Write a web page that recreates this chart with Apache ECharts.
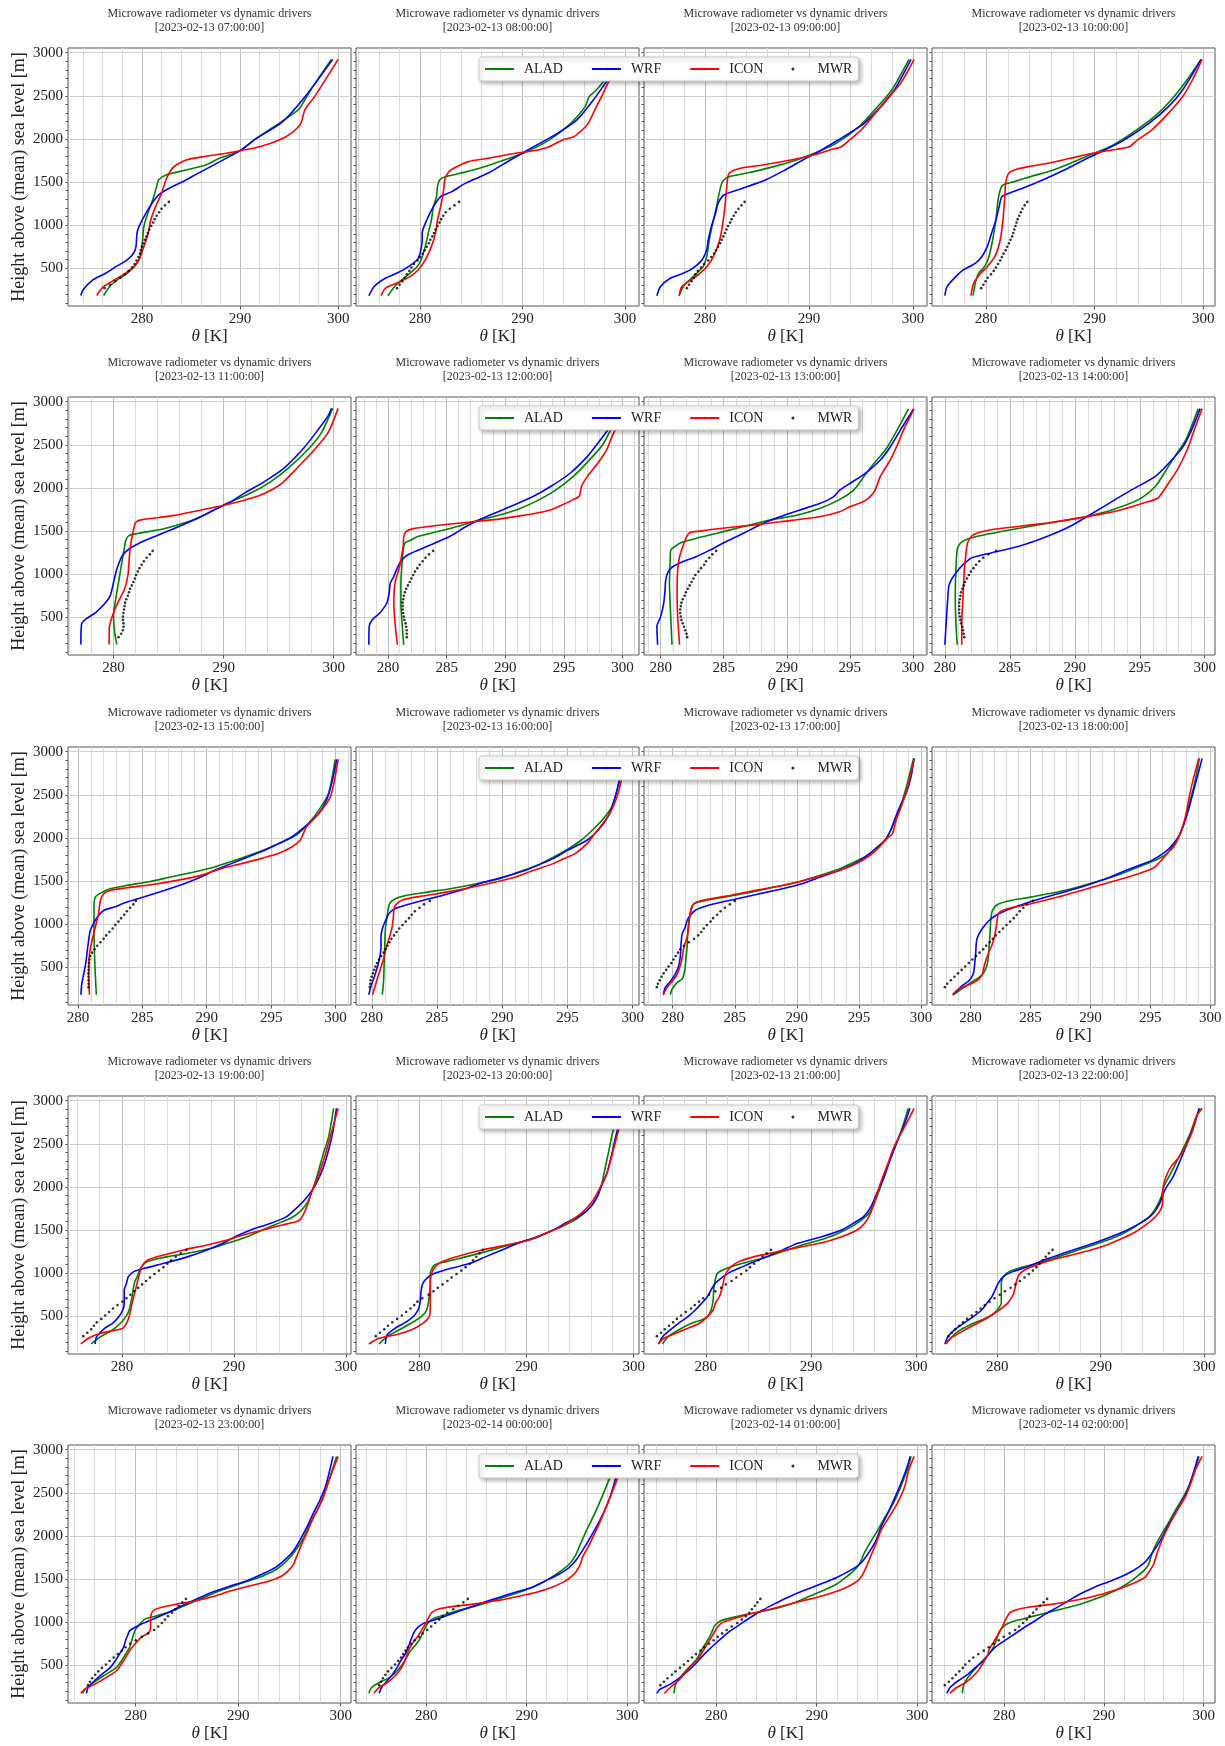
<!DOCTYPE html>
<html><head><meta charset="utf-8">
<script src="https://cdn.jsdelivr.net/npm/echarts@6/dist/echarts.min.js"></script>
<style>html,body{margin:0;padding:0;background:#fff}#c{width:1225px;height:1746px}</style>
</head><body><div id="c"></div>
<script>
// ---------------- DATA ----------------
const TIMES = ['2023-02-13 07:00:00','2023-02-13 08:00:00','2023-02-13 09:00:00','2023-02-13 10:00:00',
  '2023-02-13 11:00:00','2023-02-13 12:00:00','2023-02-13 13:00:00','2023-02-13 14:00:00',
  '2023-02-13 15:00:00','2023-02-13 16:00:00','2023-02-13 17:00:00','2023-02-13 18:00:00',
  '2023-02-13 19:00:00','2023-02-13 20:00:00','2023-02-13 21:00:00','2023-02-13 22:00:00',
  '2023-02-13 23:00:00','2023-02-14 00:00:00','2023-02-14 01:00:00','2023-02-14 02:00:00'];
const SERIES_NAMES = ['ALAD','WRF','ICON','MWR'];
const Y_TICKS = [500,1000,1500,2000,2500,3000];
const MWR_H = [270,310,350,390,430,470,510,550,590,630,670,710,750,790,830,870,910,950,990,1030,1070,1110,1150,1190,1230,1270];

// [theta K, height m]
const ALAD_07 = [[276.1,185],[276.7,287],[277.5,365],[278.5,442],[279.2,519],[279.7,597],[279.9,674],[280.07,828],[280.2,983],[280.6,1137],[281.1,1292],[281.5,1447],[281.7,1524],[282.45,1582],[284.5,1640],[286.5,1698],[287.9,1775],[290.0,1864],[291.6,2000],[295.9,2335],[296.6,2451],[297.2,2567],[299.3,2922]];
const WRF_07 = [[273.78,185],[274.0,249],[275.0,365],[276.3,442],[277.35,519],[278.5,597],[279.15,674],[279.4,751],[279.5,906],[279.7,983],[280.4,1137],[281.26,1292],[281.9,1369],[283.1,1447],[284.1,1500],[285.7,1600],[290.0,1864],[291.6,2000],[294.35,2200],[296.7,2500],[299.45,2922]];
const ICON_07 = [[275.4,185],[276.0,280],[277.2,365],[278.3,442],[279.2,519],[279.7,597],[280.2,751],[280.65,906],[280.9,1060],[281.4,1215],[282.0,1369],[282.45,1524],[282.96,1640],[283.5,1698],[284.5,1756],[286.2,1794],[288.6,1833],[290.0,1864],[292.0,1910],[294.0,1988],[295.2,2065],[296.2,2181],[296.6,2335],[297.6,2490],[300.0,2922]];
const MWR_07 = [276.2,276.75,277.3,277.8,278.25,278.65,279.0,279.25,279.45,279.65,279.8,279.9,280.0,280.15,280.3,280.45,280.6,280.75,280.95,281.15,281.3,281.5,281.75,282.0,282.35,282.75];

const ALAD_08 = [[276.85,182],[277.5,287],[278.2,365],[279.0,442],[279.7,519],[280.1,597],[280.5,751],[280.8,906],[281.1,1060],[281.3,1215],[281.6,1331],[281.7,1447],[281.9,1524],[282.5,1563],[283.9,1601],[285.8,1659],[288.2,1756],[290.4,1852],[292.6,1988],[294.7,2181],[296.1,2374],[296.5,2490],[297.2,2567],[298.0,2683],[299.5,2922]];
const WRF_08 = [[275.0,182],[275.5,287],[276.6,384],[277.7,442],[278.6,500],[279.7,597],[280.0,674],[280.2,828],[280.2,906],[280.65,1060],[281.3,1215],[282.0,1331],[283.1,1389],[284.4,1485],[286.6,1601],[288.8,1756],[290.5,1872],[293.4,2065],[295.3,2220],[296.9,2451],[298.3,2683],[299.8,2922]];
const ICON_08 = [[276.2,182],[276.6,268],[277.7,326],[279.0,403],[279.8,481],[280.5,597],[281.1,751],[281.5,906],[281.7,1060],[282.0,1215],[282.3,1408],[282.4,1524],[282.8,1620],[283.6,1679],[284.7,1737],[286.6,1775],[289.3,1833],[291.5,1872],[292.6,1910],[293.9,1988],[295.0,2026],[295.8,2103],[296.4,2181],[297.2,2374],[297.7,2490],[298.5,2683],[300.1,2922]];
const MWR_08 = [277.75,278.0,278.25,278.5,278.7,278.95,279.15,279.4,279.75,280.0,280.25,280.45,280.65,280.85,281.0,281.2,281.35,281.5,281.7,281.9,282.05,282.25,282.5,282.9,283.35,283.8];

const ALAD_09 = [[277.5,182],[277.9,287],[278.5,365],[279.2,442],[279.8,519],[280.16,635],[280.4,828],[280.8,1060],[281.1,1215],[281.35,1369],[281.6,1485],[281.8,1524],[282.3,1563],[283.9,1601],[286.6,1679],[288.8,1756],[290.5,1833],[292.6,1949],[294.8,2142],[296.6,2374],[297.95,2567],[299.6,2922]];
const WRF_09 = [[275.36,182],[275.7,287],[276.65,384],[277.9,442],[278.8,500],[279.7,597],[280.15,712],[280.3,828],[280.6,983],[281.0,1137],[281.25,1253],[281.8,1350],[283.1,1408],[285.8,1524],[287.7,1640],[289.4,1756],[290.9,1852],[292.8,1988],[295.3,2181],[296.9,2374],[298.2,2567],[299.8,2922]];
const ICON_09 = [[277.5,182],[277.75,287],[278.65,365],[279.5,442],[280.16,519],[280.8,635],[281.4,828],[281.7,1022],[281.9,1215],[282.05,1408],[282.15,1524],[282.3,1601],[283.4,1659],[285.55,1698],[288.25,1756],[290.4,1814],[292.0,1872],[293.1,1910],[293.9,1988],[295.0,2103],[296.1,2258],[297.4,2451],[298.8,2644],[300.1,2922]];
const MWR_09 = [278.25,278.45,278.7,278.9,279.05,279.3,279.6,279.9,280.3,280.6,280.85,281.05,281.25,281.45,281.6,281.75,281.9,282.05,282.2,282.4,282.55,282.75,282.95,283.2,283.5,283.8];

const ALAD_10 = [[278.8,182],[279.0,326],[279.3,442],[279.85,519],[280.26,635],[280.6,828],[280.9,1060],[281.1,1292],[281.3,1408],[281.55,1466],[282.6,1505],[284.1,1563],[286.2,1640],[287.75,1717],[289.55,1814],[291.4,1910],[293.4,2065],[295.5,2258],[297.05,2451],[298.5,2683],[299.8,2922]];
const WRF_10 = [[276.2,182],[276.4,287],[277.2,403],[277.9,481],[279.0,558],[279.6,635],[280.1,751],[280.5,906],[280.9,1060],[281.2,1215],[281.45,1331],[282.1,1369],[283.35,1427],[285.2,1524],[287.2,1640],[289.0,1756],[290.6,1852],[292.7,1988],[295.0,2181],[296.8,2374],[298.1,2567],[299.8,2922]];
const ICON_10 = [[278.6,182],[278.85,326],[279.5,442],[280.1,519],[280.8,635],[281.3,828],[281.55,1060],[281.7,1292],[281.8,1485],[282.07,1601],[282.6,1640],[283.9,1679],[285.7,1717],[287.75,1775],[289.8,1833],[291.6,1872],[293.2,1910],[293.95,1988],[295.25,2103],[296.5,2258],[298.1,2490],[299.0,2683],[299.9,2922]];
const MWR_10 = [279.55,279.75,279.95,280.15,280.45,280.7,280.9,281.1,281.3,281.45,281.6,281.8,281.95,282.1,282.25,282.4,282.5,282.6,282.7,282.8,282.9,283.05,283.2,283.35,283.55,283.8];

const ALAD_11 = [[280.3,185],[280.1,326],[280.0,519],[280.15,674],[280.45,906],[280.75,1137],[280.97,1292],[281.1,1389],[281.4,1447],[282.3,1474],[284.5,1524],[286.6,1601],[288.1,1679],[289.3,1756],[290.55,1833],[292.6,1949],[294.2,2065],[295.8,2220],[297.7,2451],[298.9,2644],[299.9,2922]];
const WRF_11 = [[277.03,185],[277.1,423],[277.5,481],[278.4,558],[279.3,674],[279.7,751],[280.0,906],[280.3,1060],[280.8,1215],[281.4,1292],[282.2,1350],[283.55,1427],[285.4,1524],[287.5,1640],[289.3,1756],[290.55,1833],[292.0,1949],[293.6,2065],[295.4,2220],[297.2,2451],[298.4,2644],[299.5,2838],[299.8,2922]];
const ICON_11 = [[279.6,185],[279.6,365],[279.9,519],[280.4,674],[281.0,828],[281.3,983],[281.4,1137],[281.5,1292],[281.7,1447],[281.9,1563],[282.0,1601],[282.6,1632],[285.4,1679],[288.4,1756],[290.55,1814],[291.7,1852],[293.2,1910],[294.5,1988],[295.4,2065],[296.6,2220],[298.3,2451],[299.5,2644],[300.4,2922]];
const MWR_11 = [280.45,280.7,280.85,280.9,280.9,280.85,280.85,280.9,280.95,281.0,281.05,281.15,281.3,281.4,281.5,281.65,281.8,281.95,282.05,282.2,282.35,282.55,282.75,283.0,283.3,283.55];

const ALAD_12 = [[281.34,182],[281.2,434],[281.1,666],[281.1,898],[281.2,1130],[281.3,1284],[281.45,1362],[281.9,1393],[282.6,1439],[284.3,1497],[286.0,1555],[287.4,1613],[289.1,1671],[291.0,1748],[292.9,1864],[294.35,1980],[295.8,2134],[297.2,2328],[298.4,2521],[299.8,2922]];
const WRF_12 = [[278.37,182],[278.4,396],[278.66,473],[279.3,550],[279.9,666],[280.1,782],[280.2,898],[280.5,975],[280.85,1091],[281.2,1168],[281.7,1226],[283.35,1323],[285.3,1439],[286.7,1555],[288.1,1651],[290.5,1787],[292.4,1903],[293.9,2019],[295.55,2173],[297.0,2366],[297.9,2521],[298.75,2675],[300.0,2922]];
const ICON_12 = [[280.8,182],[280.6,434],[280.5,666],[280.6,898],[281.0,1091],[281.15,1207],[281.3,1323],[281.35,1439],[281.55,1497],[282.15,1528],[283.6,1555],[286.2,1594],[289.1,1632],[291.0,1671],[292.7,1709],[293.9,1748],[294.6,1787],[295.8,1864],[296.3,1903],[296.5,2019],[297.0,2134],[297.9,2289],[298.65,2443],[299.1,2598],[300.3,2922]];
const MWR_12 = [281.6,281.6,281.6,281.55,281.5,281.4,281.35,281.3,281.25,281.25,281.25,281.3,281.35,281.45,281.55,281.7,281.85,282.0,282.15,282.3,282.5,282.7,282.95,283.2,283.5,283.85];

const ALAD_13 = [[280.9,182],[280.8,508],[280.7,894],[280.75,1125],[280.8,1279],[281.1,1318],[281.6,1364],[282.8,1414],[284.4,1472],[286.5,1549],[288.65,1627],[290.8,1684],[292.6,1762],[294.1,1858],[295.3,1974],[296.1,2128],[296.9,2282],[297.8,2437],[298.6,2630],[299.65,2915]];
const WRF_13 = [[279.76,182],[279.7,392],[280.0,508],[280.24,662],[280.35,816],[280.4,932],[280.6,1029],[280.95,1086],[281.75,1144],[282.8,1202],[283.9,1279],[284.9,1356],[286.0,1434],[287.05,1511],[288.1,1588],[289.45,1665],[291.0,1742],[292.6,1819],[293.7,1897],[294.2,1974],[295.0,2051],[296.2,2167],[297.4,2321],[298.2,2475],[299.0,2668],[300.05,2915]];
const ICON_13 = [[281.5,182],[281.35,508],[281.3,816],[281.35,1048],[281.5,1202],[281.75,1318],[282.0,1414],[282.3,1480],[283.1,1499],[284.7,1530],[287.3,1569],[289.45,1607],[292.6,1665],[294.2,1723],[295.0,1781],[296.05,1839],[296.6,1897],[297.0,1974],[297.4,2128],[297.7,2205],[298.2,2321],[298.7,2475],[299.25,2668],[300.1,2915]];
const MWR_13 = [282.1,282.05,281.95,281.85,281.75,281.65,281.6,281.55,281.55,281.6,281.65,281.75,281.9,282.0,282.15,282.3,282.45,282.6,282.75,283.0,283.2,283.45,283.6,283.85,284.1,284.4];

const ALAD_14 = [[280.95,182],[280.85,434],[280.8,743],[280.85,1053],[280.95,1284],[281.2,1362],[281.6,1400],[282.5,1439],[284.45,1497],[286.6,1555],[288.8,1613],[290.95,1671],[292.9,1748],[294.9,1864],[296.2,2019],[297.05,2212],[297.7,2366],[298.55,2560],[299.5,2919]];
const WRF_14 = [[280.0,182],[280.1,434],[280.2,666],[280.3,859],[280.5,936],[280.95,1033],[281.4,1110],[282.05,1188],[283.55,1246],[285.7,1323],[287.9,1439],[289.65,1555],[291.4,1709],[293.1,1864],[294.4,1980],[296.2,2134],[297.25,2289],[298.35,2482],[299.0,2675],[299.65,2919]];
const ICON_14 = [[281.3,182],[281.3,434],[281.4,743],[281.5,1053],[281.6,1207],[281.75,1362],[282.05,1439],[282.5,1478],[283.55,1516],[285.75,1555],[287.9,1594],[289.65,1632],[291.8,1690],[293.6,1748],[295.3,1825],[296.4,1883],[297.05,2019],[297.9,2212],[298.65,2443],[299.2,2675],[299.8,2919]];
const MWR_14 = [281.5,281.45,281.4,281.35,281.25,281.2,281.15,281.1,281.1,281.1,281.1,281.15,281.2,281.25,281.35,281.45,281.55,281.7,281.85,282.0,282.2,282.4,282.65,282.95,283.35,283.95];

const ALAD_15 = [[281.43,182],[281.35,422],[281.28,694],[281.25,965],[281.25,1198],[281.35,1314],[281.75,1360],[282.5,1411],[283.8,1450],[285.4,1488],[287.2,1547],[289.0,1605],[290.6,1663],[292.2,1740],[293.7,1818],[295.0,1895],[296.2,1973],[297.1,2050],[297.9,2167],[298.7,2322],[299.45,2516],[299.97,2911]];
const WRF_15 = [[280.23,182],[280.3,306],[280.45,422],[280.6,539],[280.7,655],[280.83,810],[280.96,926],[281.2,1004],[281.5,1081],[282.0,1159],[282.8,1198],[283.8,1256],[285.1,1314],[286.7,1391],[288.25,1469],[289.55,1547],[290.6,1624],[291.9,1702],[293.2,1779],[294.5,1857],[295.55,1934],[296.6,2012],[297.6,2128],[298.7,2283],[299.3,2438],[299.7,2632],[300.1,2911]];
const ICON_15 = [[280.9,182],[280.83,422],[280.9,655],[281.1,810],[281.35,965],[281.6,1120],[281.75,1275],[282.0,1353],[282.5,1391],[283.8,1422],[285.65,1457],[287.7,1508],[289.55,1566],[291.1,1643],[292.7,1702],[294.2,1760],[295.55,1818],[296.6,1895],[297.25,1973],[297.5,2050],[297.75,2128],[298.7,2283],[299.6,2477],[300.2,2911]];
const MWR_15 = [280.83,280.83,280.83,280.83,280.83,280.84,280.85,280.87,280.9,280.95,281.1,281.3,281.5,281.75,282.0,282.2,282.45,282.7,282.9,283.15,283.35,283.6,283.8,284.05,284.3,284.5];

const ALAD_16 = [[280.8,182],[280.9,345],[280.95,578],[281.0,810],[281.05,965],[281.2,1120],[281.35,1236],[281.8,1294],[282.6,1333],[284.3,1372],[286.0,1411],[288.05,1469],[289.8,1527],[291.25,1605],[292.7,1682],[293.7,1760],[294.9,1857],[296.05,1973],[296.9,2089],[297.65,2205],[298.4,2360],[298.8,2554],[299.3,2911]];
const WRF_16 = [[279.77,182],[279.9,267],[280.26,422],[280.55,578],[280.7,733],[280.7,849],[280.8,946],[281.05,1043],[281.3,1120],[281.75,1178],[282.5,1217],[283.9,1275],[285.4,1333],[287.2,1411],[288.6,1488],[290.1,1546],[291.8,1624],[293.0,1702],[293.9,1760],[295.0,1857],[296.5,1973],[297.35,2089],[298.1,2244],[298.5,2399],[298.8,2554],[299.4,2911]];
const ICON_16 = [[280.06,182],[280.26,287],[280.45,384],[280.7,500],[280.93,616],[281.1,733],[281.35,849],[281.55,965],[281.65,1081],[281.7,1178],[281.9,1236],[282.4,1283],[283.7,1322],[285.7,1372],[287.75,1430],[289.5,1488],[291.0,1546],[292.4,1624],[293.9,1702],[295.0,1779],[295.6,1818],[296.5,1934],[297.1,2050],[297.9,2205],[298.5,2360],[298.95,2554],[299.5,2911]];
const MWR_16 = [279.85,279.88,279.9,279.98,280.08,280.18,280.28,280.4,280.55,280.72,280.9,281.05,281.2,281.35,281.5,281.7,281.9,282.1,282.35,282.6,282.85,283.05,283.3,283.65,284.0,284.45];

const ALAD_17 = [[279.8,182],[279.95,248],[280.36,326],[280.76,364],[280.9,422],[281.0,500],[281.07,616],[281.16,733],[281.2,888],[281.3,1043],[281.47,1159],[281.7,1236],[282.3,1264],[283.36,1294],[284.9,1333],[286.4,1372],[288.2,1430],[290.1,1488],[291.9,1566],[293.45,1644],[294.65,1721],[295.7,1799],[296.5,1896],[297.1,1973],[297.56,2089],[298.0,2244],[298.5,2438],[298.9,2632],[299.4,2922]];
const WRF_17 = [[279.24,182],[279.4,267],[279.85,345],[280.2,422],[280.45,500],[280.6,616],[280.67,771],[280.76,888],[281.0,965],[281.16,1043],[281.4,1101],[281.8,1159],[282.44,1198],[283.36,1236],[285.2,1294],[287.0,1353],[288.85,1411],[290.4,1469],[291.9,1546],[293.45,1624],[294.65,1702],[295.3,1760],[296.2,1857],[297.1,1973],[297.56,2089],[297.86,2205],[298.3,2360],[298.8,2515],[299.2,2709],[299.45,2922]];
const ICON_17 = [[279.24,182],[279.55,267],[280.0,345],[280.36,422],[280.6,519],[280.76,616],[280.9,733],[281.16,849],[281.28,965],[281.37,1081],[281.47,1178],[281.7,1236],[282.14,1267],[283.05,1294],[284.6,1333],[286.4,1384],[288.2,1430],[290.1,1488],[291.6,1546],[293.45,1624],[294.8,1702],[295.9,1799],[296.65,1896],[297.25,1992],[297.7,2050],[298.0,2205],[298.5,2399],[299.0,2632],[299.45,2922]];
const MWR_17 = [278.72,278.8,278.95,279.1,279.27,279.48,279.66,279.88,280.06,280.24,280.42,280.6,280.9,281.3,281.72,282.05,282.3,282.5,282.75,283.05,283.25,283.58,283.85,284.2,284.6,285.0];

const ALAD_18 = [[278.54,182],[279.44,267],[280.28,345],[280.7,384],[281.12,442],[281.4,539],[281.54,733],[281.62,888],[281.68,1043],[281.82,1159],[282.24,1229],[283.36,1275],[285.0,1314],[287.28,1372],[288.96,1430],[290.92,1508],[292.6,1585],[294.0,1663],[295.4,1740],[296.4,1818],[296.8,1895],[297.37,2012],[297.87,2205],[298.26,2399],[298.7,2632],[299.1,2922]];
const WRF_18 = [[278.54,182],[278.88,229],[279.3,287],[279.86,345],[280.22,422],[280.34,539],[280.42,655],[280.5,810],[280.7,888],[281.06,965],[281.54,1043],[282.1,1101],[282.94,1159],[284.06,1217],[285.32,1275],[287.28,1353],[289.24,1430],[290.92,1508],[292.3,1585],[293.7,1663],[295.13,1740],[296.25,1837],[296.95,1934],[297.5,2050],[297.93,2205],[298.26,2360],[298.63,2554],[299.0,2748],[299.33,2922]];
const ICON_18 = [[278.49,182],[279.0,248],[280.0,306],[280.7,364],[280.98,422],[281.18,539],[281.46,655],[281.82,771],[282.04,888],[282.18,1004],[282.3,1120],[282.66,1159],[283.64,1198],[285.04,1236],[287.28,1314],[289.24,1391],[291.2,1469],[293.16,1547],[294.85,1624],[295.4,1663],[295.8,1721],[296.4,1818],[296.95,1895],[297.5,2050],[297.87,2205],[298.2,2438],[298.5,2632],[299.05,2922]];
const MWR_18 = [277.85,278.05,278.35,278.65,278.95,279.25,279.55,279.85,280.15,280.45,280.75,281.05,281.3,281.6,281.85,282.1,282.4,282.7,283.0,283.3,283.6,283.85,284.1,284.4,284.7,285.2];

const ALAD_19 = [[277.25,179],[278.1,264],[279.15,341],[279.86,419],[280.35,496],[280.64,573],[280.9,728],[281.1,882],[281.35,960],[281.6,1037],[282.0,1114],[282.7,1153],[284.1,1192],[285.9,1230],[288.0,1288],[289.4,1346],[290.8,1404],[292.2,1481],[293.6,1559],[295.05,1636],[295.9,1713],[296.6,1829],[297.0,1964],[297.4,2119],[297.9,2351],[298.45,2583],[298.9,2911]];
const WRF_19 = [[277.6,179],[277.74,264],[278.45,361],[279.15,419],[279.72,496],[280.07,573],[280.2,650],[280.2,805],[280.4,882],[280.57,960],[281.06,1018],[282.0,1056],[283.75,1114],[285.9,1192],[287.6,1269],[289.0,1346],[290.1,1423],[291.5,1501],[293.3,1578],[294.7,1655],[295.55,1752],[296.3,1849],[297.0,1964],[297.5,2080],[298.0,2235],[298.45,2428],[298.8,2621],[299.15,2911]];
const ICON_19 = [[276.33,179],[277.0,245],[278.1,303],[279.5,341],[280.07,361],[280.4,419],[280.64,496],[280.9,650],[281.2,805],[281.5,960],[281.77,1076],[282.3,1153],[283.75,1211],[285.5,1269],[287.6,1327],[289.4,1385],[290.8,1443],[292.6,1501],[294.3,1559],[295.6,1598],[296.0,1636],[296.5,1771],[297.0,1964],[297.5,2119],[298.1,2351],[298.6,2583],[299.3,2911]];
const MWR_19 = [276.55,276.9,277.25,277.5,277.75,278.15,278.5,278.85,279.2,279.6,280.05,280.4,280.75,281.1,281.45,281.8,282.15,282.5,282.9,283.3,283.7,284.05,284.4,284.8,285.25,285.75];

const ALAD_20 = [[276.2,179],[276.96,264],[278.07,341],[279.2,419],[280.15,496],[280.67,573],[280.9,728],[281.0,882],[281.0,998],[281.4,1095],[282.5,1134],[284.4,1192],[286.2,1250],[288.4,1327],[290.7,1404],[292.15,1481],[293.6,1559],[294.75,1636],[295.7,1733],[296.45,1849],[296.96,2003],[297.3,2196],[297.7,2428],[298.1,2660],[298.9,2911]];
const WRF_20 = [[276.8,179],[276.96,284],[277.7,361],[278.8,438],[279.55,515],[279.93,593],[280.07,689],[280.15,805],[280.3,882],[280.67,940],[281.4,998],[282.9,1056],[284.75,1114],[286.2,1192],[287.7,1269],[289.2,1346],[291.0,1423],[292.5,1501],[293.6,1578],[295.1,1675],[296.0,1771],[296.6,1887],[296.96,2003],[297.5,2158],[297.9,2351],[298.4,2621],[299.1,2911]];
const ICON_20 = [[275.26,179],[276.2,245],[277.7,284],[279.2,341],[280.3,419],[280.9,496],[281.0,612],[281.0,766],[281.0,921],[281.26,1037],[281.8,1114],[282.5,1153],[284.0,1211],[285.85,1269],[288.1,1327],[290.3,1385],[291.8,1462],[293.25,1540],[294.2,1617],[295.1,1694],[296.0,1810],[296.75,1964],[297.5,2158],[298.1,2428],[298.6,2660],[299.3,2911]];
const MWR_20 = [275.9,276.3,276.7,277.05,277.45,277.9,278.35,278.75,279.15,279.5,279.8,280.25,280.85,281.3,281.7,282.15,282.6,283.0,283.45,283.9,284.3,284.7,285.0,285.3,285.6,285.9];

const ALAD_21 = [[275.9,179],[276.4,264],[277.4,341],[278.65,419],[279.6,457],[280.15,496],[280.5,573],[280.7,689],[280.75,805],[280.9,921],[281.1,998],[282.0,1056],[283.5,1114],[285.4,1172],[287.3,1250],[289.15,1327],[291.4,1404],[293.25,1501],[294.6,1598],[295.5,1694],[296.0,1810],[296.5,1964],[297.0,2158],[297.75,2389],[298.5,2621],[299.25,2911]];
const WRF_21 = [[275.5,179],[275.9,264],[276.6,341],[277.4,419],[278.3,496],[279.0,573],[279.6,650],[280.15,728],[280.5,805],[280.9,882],[281.65,960],[282.4,1018],[283.5,1076],[284.65,1134],[285.8,1192],[287.3,1269],[288.75,1346],[291.0,1423],[292.9,1501],[294.0,1578],[295.0,1655],[295.7,1771],[296.25,1926],[296.85,2080],[297.4,2274],[298.1,2505],[298.9,2737],[299.4,2911]];
const ICON_21 = [[275.5,179],[276.0,245],[277.15,303],[278.3,361],[279.4,419],[280.15,496],[280.7,573],[280.9,650],[281.3,728],[281.5,805],[281.65,882],[281.8,960],[282.0,1018],[282.4,1076],[283.15,1134],[284.65,1192],[286.9,1250],[289.15,1307],[291.4,1365],[292.9,1423],[294.4,1501],[295.1,1578],[295.65,1694],[296.1,1849],[296.6,2042],[297.2,2235],[297.9,2467],[298.9,2698],[299.8,2911]];
const MWR_21 = [275.35,275.75,276.1,276.5,276.9,277.25,277.65,278.1,278.6,278.95,279.35,279.75,280.3,280.9,281.45,281.9,282.45,282.9,283.35,283.85,284.2,284.6,285.0,285.4,285.8,286.2];

const ALAD_22 = [[275.1,179],[275.5,245],[276.2,322],[277.35,399],[278.5,457],[279.5,515],[280.0,573],[280.4,650],[280.4,882],[280.6,960],[281.15,1018],[282.65,1076],[284.5,1134],[286.4,1211],[288.3,1288],[290.2,1365],[291.5,1423],[292.8,1501],[293.8,1578],[294.7,1655],[295.3,1752],[295.85,1887],[296.1,2003],[296.6,2119],[297.1,2235],[297.9,2428],[298.65,2621],[299.1,2776],[299.6,2911]];
const WRF_22 = [[274.95,179],[275.25,264],[275.85,341],[276.75,419],[277.7,496],[278.5,573],[279.0,650],[279.5,728],[279.8,805],[280.1,882],[280.6,960],[281.5,1018],[283.0,1076],[284.5,1153],[286.4,1230],[288.3,1307],[290.2,1385],[291.85,1462],[293.2,1540],[294.35,1617],[295.1,1694],[295.7,1810],[296.2,1964],[297.0,2119],[297.7,2312],[298.35,2505],[299.1,2737],[299.5,2911]];
const ICON_22 = [[274.95,179],[275.5,245],[276.6,322],[277.75,399],[278.7,457],[279.5,515],[280.2,573],[281.0,650],[281.35,708],[281.6,766],[281.75,843],[281.9,921],[282.1,979],[282.65,1037],[283.8,1095],[285.3,1153],[287.2,1211],[289.05,1269],[290.6,1327],[292.1,1404],[293.4,1481],[294.35,1559],[295.3,1655],[295.85,1752],[296.0,1849],[296.0,1964],[296.2,2080],[296.45,2158],[296.8,2235],[297.6,2351],[298.35,2505],[298.9,2660],[299.25,2814],[299.8,2911]];
const MWR_22 = [275.3,275.6,275.95,276.35,276.7,277.1,277.55,278.0,278.4,278.8,279.25,279.75,280.25,280.75,281.3,281.75,282.2,282.65,283.05,283.45,283.8,284.1,284.4,284.7,285.0,285.35];

const ALAD_23 = [[274.8,175],[275.2,240],[276.1,318],[277.1,395],[278.1,473],[278.6,550],[279.0,628],[279.4,705],[279.6,783],[279.8,860],[280.0,919],[280.4,977],[280.9,1035],[282.05,1074],[283.6,1132],[285.1,1209],[286.65,1287],[288.2,1364],[290.1,1442],[292.0,1519],[293.5,1597],[294.4,1674],[295.2,1771],[295.8,1868],[296.4,1984],[297.0,2139],[297.7,2295],[298.3,2450],[298.85,2643],[299.6,2922]];
const WRF_23 = [[275.2,175],[275.35,240],[275.95,318],[276.7,395],[277.5,473],[278.0,550],[278.4,628],[278.8,705],[279.0,783],[279.25,860],[279.4,899],[279.9,938],[280.5,977],[281.3,1016],[282.05,1054],[283.2,1112],[284.5,1190],[285.9,1267],[287.4,1345],[289.3,1422],[290.85,1481],[292.35,1558],[293.65,1636],[294.65,1733],[295.4,1829],[296.0,1946],[296.7,2101],[297.3,2256],[297.95,2411],[298.5,2566],[298.85,2721],[299.25,2922]];
const ICON_23 = [[274.65,175],[275.0,221],[276.0,279],[277.1,357],[278.1,434],[278.6,512],[279.0,589],[279.4,667],[279.9,744],[280.5,822],[281.05,860],[281.3,880],[281.45,938],[281.45,1054],[281.7,1132],[282.45,1171],[284.0,1209],[285.9,1248],[287.8,1306],[289.3,1364],[291.2,1422],[293.1,1481],[294.3,1539],[294.9,1597],[295.4,1674],[295.8,1791],[296.2,1907],[296.8,2062],[297.35,2217],[297.7,2295],[298.3,2450],[298.85,2643],[299.75,2922]];
const MWR_23 = [275.35,275.55,275.75,276.05,276.35,276.7,277.1,277.45,277.85,278.25,278.65,279.0,279.45,280.0,280.6,281.2,281.8,282.2,282.55,282.85,283.15,283.55,283.85,284.2,284.55,284.9];

const ALAD_00 = [[274.3,175],[274.55,240],[275.3,298],[276.35,357],[277.1,434],[277.65,512],[278.05,589],[278.45,667],[279.0,744],[279.45,822],[279.75,899],[280.1,977],[280.6,1035],[281.55,1074],[283.1,1132],[285.05,1190],[286.6,1248],[288.2,1306],[289.7,1364],[291.3,1442],[292.45,1519],[293.45,1597],[294.25,1674],[294.85,1771],[295.35,1907],[295.95,2062],[296.6,2217],[297.2,2372],[297.9,2566],[299.1,2922]];
const WRF_00 = [[275.33,175],[275.55,240],[276.1,318],[276.65,395],[277.1,473],[277.45,550],[277.9,628],[278.2,705],[278.45,783],[278.7,860],[279.0,919],[279.6,977],[280.55,1016],[281.55,1054],[282.9,1112],[284.3,1171],[285.7,1229],[287.25,1287],[288.8,1345],[290.5,1403],[291.9,1481],[293.25,1558],[294.25,1636],[295.0,1733],[295.65,1849],[296.35,1984],[297.1,2139],[297.75,2295],[298.3,2450],[298.7,2605],[299.5,2922]];
const ICON_00 = [[274.8,175],[275.3,240],[276.1,298],[276.9,376],[277.45,453],[277.8,531],[278.05,608],[278.3,686],[278.7,763],[279.2,841],[279.6,919],[280.0,996],[280.25,1054],[280.55,1112],[281.15,1151],[282.7,1182],[284.65,1209],[287.0,1248],[288.95,1295],[290.9,1345],[292.45,1403],[293.8,1473],[294.55,1539],[295.0,1597],[295.35,1674],[295.55,1752],[296.1,1868],[296.75,2023],[297.35,2178],[298.05,2372],[298.7,2566],[299.9,2922]];
const MWR_00 = [275.33,275.5,275.7,275.95,276.2,276.55,276.9,277.2,277.5,277.7,277.95,278.2,278.5,278.85,279.3,279.65,280.1,280.5,280.9,281.3,281.65,282.1,282.7,283.2,283.7,284.15];

const ALAD_01 = [[275.8,175],[275.95,279],[276.4,357],[276.95,434],[277.6,512],[278.15,589],[278.5,667],[278.9,744],[279.3,822],[279.55,880],[279.85,958],[280.45,1016],[281.6,1054],[284.0,1112],[286.3,1171],[287.85,1229],[289.0,1287],[290.6,1364],[292.0,1442],[292.9,1519],[293.7,1597],[294.25,1674],[294.7,1791],[295.25,1907],[296.05,2062],[296.8,2217],[297.6,2372],[298.35,2566],[299.0,2760],[299.4,2922]];
const WRF_01 = [[274.1,175],[274.4,221],[275.4,279],[276.4,357],[277.2,434],[277.9,512],[278.5,589],[279.15,667],[279.85,744],[280.6,822],[281.4,899],[282.4,977],[283.4,1054],[284.5,1132],[285.75,1209],[287.1,1287],[288.65,1364],[290.4,1442],[292.0,1519],[293.3,1597],[294.3,1674],[295.1,1791],[295.9,1946],[296.4,2101],[297.05,2256],[297.8,2450],[298.5,2643],[299.0,2798],[299.3,2922]];
const ICON_01 = [[274.85,175],[275.4,240],[276.2,318],[276.8,395],[277.35,473],[278.0,550],[278.5,628],[278.9,705],[279.3,783],[279.7,860],[280.1,938],[280.6,996],[281.6,1035],[283.2,1093],[284.75,1132],[286.7,1190],[288.65,1248],[290.6,1306],[292.15,1364],[293.3,1422],[294.1,1481],[294.6,1558],[295.0,1655],[295.4,1771],[295.9,1907],[296.4,2062],[297.2,2217],[298.0,2372],[298.75,2566],[299.15,2760],[299.7,2922]];
const MWR_01 = [274.45,274.8,275.15,275.6,275.95,276.4,276.8,277.2,277.6,278.0,278.45,278.8,279.3,279.75,280.15,280.6,281.05,281.55,282.1,282.55,282.95,283.3,283.55,283.85,284.1,284.4];

const ALAD_02 = [[275.8,175],[275.95,279],[276.35,357],[276.9,434],[277.5,512],[278.15,589],[278.7,667],[279.05,744],[279.3,822],[279.55,899],[280.0,958],[280.6,996],[281.8,1035],[283.7,1093],[285.7,1151],[287.6,1209],[289.55,1287],[291.1,1364],[292.3,1442],[293.2,1519],[294.0,1597],[294.5,1674],[294.8,1791],[295.25,1907],[295.8,2023],[296.6,2178],[297.35,2333],[298.15,2489],[298.9,2682],[299.55,2922]];
const WRF_02 = [[274.25,175],[274.55,240],[275.35,318],[276.35,395],[277.1,473],[277.9,550],[278.45,628],[279.05,705],[280.0,783],[281.0,860],[282.0,938],[283.1,1016],[284.1,1093],[285.3,1171],[286.45,1248],[287.6,1326],[289.0,1403],[290.75,1481],[292.3,1558],[293.45,1636],[294.25,1713],[295.0,1829],[295.65,1946],[296.35,2101],[297.1,2256],[297.9,2411],[298.5,2566],[299.05,2760],[299.45,2922]];
const ICON_02 = [[274.55,175],[275.2,240],[276.1,298],[276.9,376],[277.5,453],[277.9,531],[278.3,608],[278.5,686],[278.9,763],[279.3,841],[279.7,919],[280.0,996],[280.25,1054],[280.6,1112],[281.4,1151],[282.95,1182],[284.9,1209],[286.85,1248],[288.8,1295],[290.35,1345],[291.9,1403],[293.2,1462],[294.1,1519],[294.6,1597],[295.0,1674],[295.25,1771],[295.55,1868],[295.95,1984],[296.6,2139],[297.35,2295],[298.15,2450],[298.7,2605],[299.15,2760],[299.85,2922]];
const MWR_02 = [274.05,274.45,274.8,275.15,275.5,275.85,276.1,276.5,276.9,277.4,277.95,278.45,278.95,279.45,279.95,280.55,281.1,281.5,281.9,282.25,282.55,282.9,283.25,283.6,283.95,284.3];

// major x tick step per panel
const X_STEP = [10,10,10,10, 10,5,5,5, 5,5,5,5, 10,10,10,10, 10,10,10,10];

const PANELS = [
  [ALAD_07,WRF_07,ICON_07,MWR_07],[ALAD_08,WRF_08,ICON_08,MWR_08],[ALAD_09,WRF_09,ICON_09,MWR_09],[ALAD_10,WRF_10,ICON_10,MWR_10],
  [ALAD_11,WRF_11,ICON_11,MWR_11],[ALAD_12,WRF_12,ICON_12,MWR_12],[ALAD_13,WRF_13,ICON_13,MWR_13],[ALAD_14,WRF_14,ICON_14,MWR_14],
  [ALAD_15,WRF_15,ICON_15,MWR_15],[ALAD_16,WRF_16,ICON_16,MWR_16],[ALAD_17,WRF_17,ICON_17,MWR_17],[ALAD_18,WRF_18,ICON_18,MWR_18],
  [ALAD_19,WRF_19,ICON_19,MWR_19],[ALAD_20,WRF_20,ICON_20,MWR_20],[ALAD_21,WRF_21,ICON_21,MWR_21],[ALAD_22,WRF_22,ICON_22,MWR_22],
  [ALAD_23,WRF_23,ICON_23,MWR_23],[ALAD_00,WRF_00,ICON_00,MWR_00],[ALAD_01,WRF_01,ICON_01,MWR_01],[ALAD_02,WRF_02,ICON_02,MWR_02]
];

// ---------------- LAYOUT / STYLE ----------------
const FONT = 'Liberation Serif';
const COLORS = {ALAD:'#008000', WRF:'#0000ff', ICON:'#ff0000', MWR:'#000000'};
const COL_LEFT = [68, 356, 644, 932], COL_W = 283;
const ROW_TOP = [48, 397, 747, 1096, 1445], ROW_H = 258;
const Y_MIN = 63, Y_MAX = 3054;

const grids=[], xAxes=[], yAxes=[], series=[], titles=[], legends=[];
const yMinorTicks=[]; for(let v=100; v<=3000; v+=100) yMinorTicks.push(v);

PANELS.forEach((p,i)=>{
  const r=Math.floor(i/4), c=i%4;
  const [alad,wrf,icon,mwr]=p;
  let lo=Infinity, hi=-Infinity;
  [alad,wrf,icon].forEach(s=>s.forEach(d=>{lo=Math.min(lo,d[0]);hi=Math.max(hi,d[0]);}));
  mwr.forEach(v=>{lo=Math.min(lo,v);hi=Math.max(hi,v);});
  const m=0.05*(hi-lo); const xmin=lo-m, xmax=hi+m;
  const step=X_STEP[i], ms=step/5;
  const major=[], minor=[];
  for(let k=Math.ceil(xmin/ms); k*ms<=xmax; k++){
    const v=Math.round(k*ms*1000)/1000;
    if(Math.abs(v/step-Math.round(v/step))<1e-6) major.push(v); else minor.push(v);
  }
  grids.push({left:COL_LEFT[c], top:ROW_TOP[r], width:COL_W, height:ROW_H, show:true,
    borderColor:'#555', borderWidth:1, backgroundColor:'rgba(0,0,0,0)', containLabel:false, outerBoundsMode:'none'});
  xAxes.push({gridIndex:i, type:'value', min:xmin, max:xmax,
    axisLine:{show:false}, splitLine:{show:false},
    axisTick:{show:true, customValues:major, length:3.5, lineStyle:{color:'#555', width:1}},
    axisLabel:{show:true, customValues:major, margin:6, fontFamily:FONT, fontSize:15, color:'#222', formatter:v=>String(v)},
    name:'{i|θ} [K]', nameLocation:'middle', nameGap:21,
    nameTextStyle:{fontFamily:FONT, fontSize:17, color:'#222', rich:{i:{fontFamily:FONT, fontStyle:'italic', fontSize:17, color:'#222'}}}
  });
  yAxes.push({gridIndex:i, type:'value', min:Y_MIN, max:Y_MAX,
    axisLine:{show:false}, splitLine:{show:false},
    axisTick:{show:true, customValues:yMinorTicks, length:2.5, lineStyle:{color:'#555', width:1}},
    axisLabel:{show:c===0, customValues:Y_TICKS, margin:5, fontFamily:FONT, fontSize:15, color:'#222', formatter:v=>String(v)},
    name: c===0 ? 'Height above (mean) sea level [m]' : '', nameLocation:'middle', nameGap:40,
    nameTextStyle:{fontFamily:FONT, fontSize:18, color:'#222'}
  });
  const ml=[];
  minor.forEach(v=>ml.push({xAxis:v, lineStyle:{color:'#dadada', width:1, type:'solid'}}));
  major.forEach(v=>ml.push({xAxis:v, lineStyle:{color:'#bdbdbd', width:1, type:'solid'}}));
  Y_TICKS.forEach(v=>ml.push({yAxis:v, lineStyle:{color:'#cfcfcf', width:1.2, type:'solid'}}));
  series.push({type:'line', name:'_grid'+i, xAxisIndex:i, yAxisIndex:i, data:[[xmin+0.001,Y_MIN+1]],
    symbol:'none', lineStyle:{width:0, opacity:0}, silent:true, z:0,
    markLine:{silent:true, z:0, zlevel:0, symbol:['none','none'], label:{show:false}, animation:false, emphasis:{disabled:true}, data:ml}});
  [['ALAD',alad],['WRF',wrf],['ICON',icon]].forEach(([nm,d],k)=>{
    series.push({type:'line', name:nm, xAxisIndex:i, yAxisIndex:i, data:d, symbol:'none', showSymbol:false,
      smooth:0.25, lineStyle:{color:COLORS[nm], width:1.6}, itemStyle:{color:COLORS[nm]}, silent:true, z:6+k});
  });
  series.push({type:'scatter', name:'MWR', xAxisIndex:i, yAxisIndex:i, data:mwr.map((t,k)=>[t,MWR_H[k]]),
    symbol:'circle', symbolSize:2.6, itemStyle:{color:'#000'}, silent:true, z:9});
  titles.push({text:'Microwave radiometer vs dynamic drivers\n['+TIMES[i]+']', left:COL_LEFT[c]+COL_W/2, top:ROW_TOP[r]-41,
    textAlign:'center', padding:0, textStyle:{fontFamily:FONT, fontSize:12, fontWeight:'normal', color:'#333', lineHeight:14}});
});
ROW_TOP.forEach(t=>{
  legends.push({show:true, data:SERIES_NAMES, left:479, top:t+9, orient:'horizontal', itemWidth:29, itemHeight:3, itemGap:28,
    backgroundColor:'#fff', borderColor:'#cccccc', borderWidth:1, borderRadius:3, padding:[5,6,5,5],
    shadowBlur:4, shadowColor:'rgba(0,0,0,0.3)', shadowOffsetX:2, shadowOffsetY:2, selectedMode:false, z:20,
    textStyle:{fontFamily:FONT, fontSize:14, color:'#222', padding:[0,0,0,5]}});
});

const chart = echarts.init(document.getElementById('c'), null, {renderer:'canvas', width:1225, height:1746});
chart.setOption({animation:false, backgroundColor:'#fff', textStyle:{fontFamily:FONT},
  title:titles, legend:legends, grid:grids, xAxis:xAxes, yAxis:yAxes, series:series});
</script></body></html>
